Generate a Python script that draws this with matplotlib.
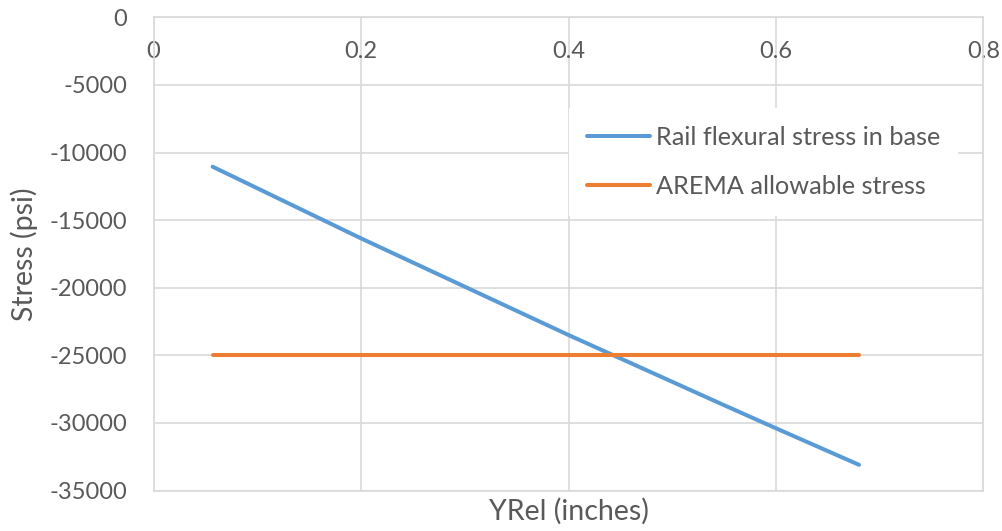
import matplotlib
matplotlib.use("Agg")
import matplotlib.pyplot as plt
from matplotlib.ticker import FixedLocator, FuncFormatter

# data
yrel = [0.057, 0.2, 0.4, 0.543, 0.6, 0.68]
rail_stress = [-11050, -16350, -23500, -28450, -30400, -33100]
arema_x = [0.057, 0.68]
arema_stress = [-25000, -25000]

x_ticks = [0, 0.2, 0.4, 0.6, 0.8]
y_ticks = [0, -5000, -10000, -15000, -20000, -25000, -30000, -35000]

text_col = "#595959"
grid_col = "#d9d9d9"

plt.rcParams['font.family'] = ['Lato', 'DejaVu Sans']

fig = plt.figure(figsize=(10.03, 5.31), dpi=100)
ax = fig.add_axes([153.5/1003, 1-490.5/531, (983.5-153.5)/1003, (490.5-17.3)/531])

ax.plot(yrel, rail_stress, color="#5B9BD5", lw=2.9, solid_capstyle="round",
        label="Rail flexural stress in base", zorder=3)
ax.plot(arema_x, arema_stress, color="#ED7D31", lw=2.9, solid_capstyle="round",
        label="AREMA allowable stress", zorder=3)

ax.set_xlim(0, 0.8)
ax.set_ylim(-35000, 0)
ax.xaxis.set_major_locator(FixedLocator(x_ticks))
ax.yaxis.set_major_locator(FixedLocator(y_ticks))
ax.xaxis.set_major_formatter(FuncFormatter(lambda v, p: "0" if v == 0 else "%g" % v))
ax.yaxis.set_major_formatter(FuncFormatter(lambda v, p: "%d" % v))

ax.grid(True, color=grid_col, lw=1.2, zorder=0)
ax.set_axisbelow(True)
for s in ax.spines.values():
    s.set_color(grid_col)
    s.set_linewidth(1.2)

# x axis crosses at y=0, so the labels sit just under the top edge
ax.tick_params(axis='x', bottom=False, labelbottom=False, top=True, labeltop=True,
               length=0, pad=-32, labelsize=17, labelcolor=text_col)
ax.tick_params(axis='y', length=0, pad=19, labelsize=17, labelcolor=text_col)

ax.set_xlabel("YRel (inches)", fontsize=20.5, color=text_col, labelpad=5)
ax.set_ylabel("Stress (psi)", fontsize=20.5, color=text_col, labelpad=8)

leg = ax.legend(loc="upper left", bbox_to_anchor=(569/1003, 1-108/531),
                bbox_transform=fig.transFigure, borderaxespad=0, fontsize=18.2,
                frameon=True, fancybox=False, borderpad=0.7, handlelength=2.5,
                handletextpad=0.25, labelspacing=1.05)
leg.get_frame().set_facecolor("white")
leg.get_frame().set_edgecolor("none")
leg.get_frame().set_alpha(1)
for t in leg.get_texts():
    t.set_color(text_col)

fig.savefig("out.png", dpi=100)
